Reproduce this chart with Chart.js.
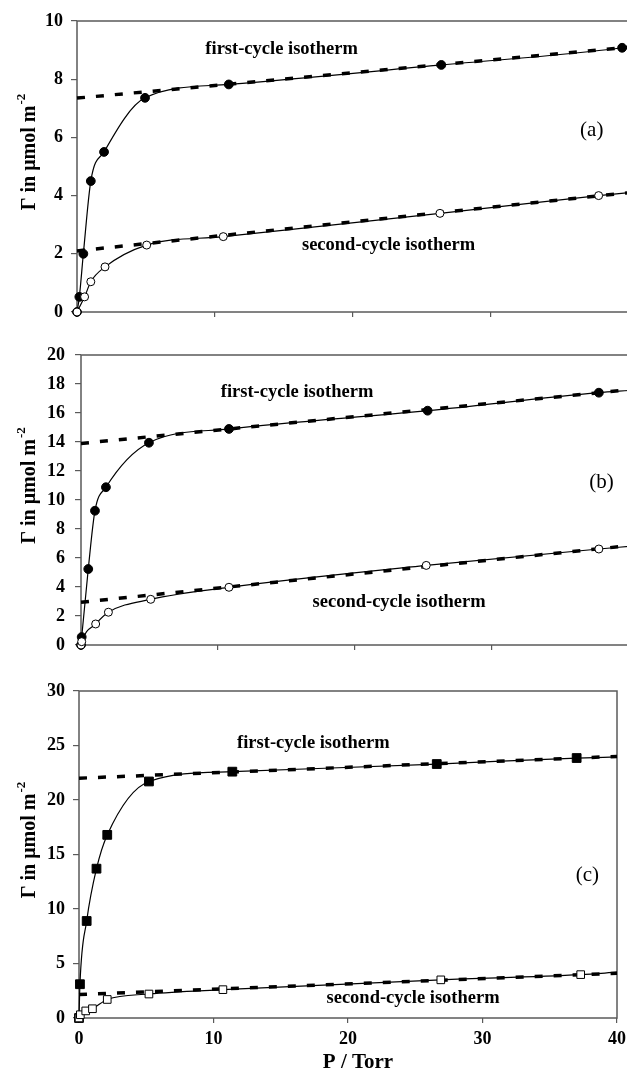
<!DOCTYPE html>
<html>
<head>
<meta charset="utf-8">
<script src="https://cdn.jsdelivr.net/npm/chart.js@4.4.1/dist/chart.umd.min.js"></script>
<style>
  html, body { margin: 0; padding: 0; background: #fff; overflow: hidden; width: 627px; height: 1077px; }
  .panel { position: absolute; left: 0; }
</style>
</head>
<body>
<div class="panel" style="top:0"><canvas id="panelA" width="660" height="330"></canvas></div>
<div class="panel" style="top:330px"><canvas id="panelB" width="660" height="330"></canvas></div>
<div class="panel" style="top:660px"><canvas id="panelC" width="627" height="417"></canvas></div>
<script>
const SERIF = '"Liberation Serif", "Times New Roman", serif';
const AXIS = '#5a5a5a';

// (a) pressure in Torr, surface excess in umol m-2
const pressA1 = [0, 0.17, 0.46, 1.0, 1.96, 4.93, 11.0, 26.4, 39.5];
const gammaA1 = [0, 0.52, 2.0, 4.5, 5.5, 7.36, 7.82, 8.49, 9.08];
const pressA2 = [0, 0.55, 1.0, 2.03, 5.05, 10.6, 26.3, 37.8];
const gammaA2 = [0, 0.52, 1.04, 1.55, 2.3, 2.59, 3.39, 4.0];
const fitEndA = [9.12, 4.1];          // fitted curves at 40 Torr
const lineA = [[7.35, 9.1], [2.1, 4.1]]; // linear part, at 0 and 40 Torr

// (b)
const pressB1 = [0, 0.05, 0.53, 1.02, 1.82, 4.96, 10.8, 25.3, 37.8];
const gammaB1 = [0, 0.55, 5.24, 9.26, 10.88, 13.95, 14.9, 16.16, 17.4];
const pressB2 = [0, 0.05, 1.07, 2.0, 5.09, 10.8, 25.2, 37.8];
const gammaB2 = [0, 0.23, 1.45, 2.26, 3.15, 3.98, 5.49, 6.62];
const fitEndB = [17.55, 6.8];
const lineB = [[13.9, 17.6], [2.95, 6.85]];

// (c)
const pressC1 = [0, 0.07, 0.57, 1.3, 2.1, 5.2, 11.4, 26.6, 37.0];
const gammaC1 = [0, 3.1, 8.9, 13.7, 16.8, 21.7, 22.6, 23.3, 23.85];
const pressC2 = [0, 0.1, 0.5, 1.0, 2.1, 5.2, 10.7, 26.9, 37.3];
const gammaC2 = [0, 0.3, 0.65, 0.85, 1.7, 2.2, 2.6, 3.5, 3.98];
const fitEndC = [23.95, 4.2];
const lineC = [[22.0, 24.0], [2.15, 4.1]];

const xTicks = [0, 10, 20, 30, 40];
const pMax = 40;

const toXY = (px, gy) => px.map((p, i) => ({ x: p, y: gy[i] }));

const panelPlugin = {
  id: 'panel',
  beforeDatasetsDraw(chart) {
    const { ctx, chartArea: a } = chart;
    ctx.save();
    ctx.strokeStyle = AXIS;
    ctx.lineWidth = 1.5;
    ctx.strokeRect(a.left, a.top, a.right - a.left, a.bottom - a.top);
    ctx.restore();
  },
  afterDraw(chart, args, o) {
    const { ctx, chartArea: a, scales: { x, y } } = chart;
    ctx.save();
    ctx.fillStyle = '#000';
    ctx.textBaseline = 'middle';
    for (const n of o.notes) {
      ctx.font = n.font;
      ctx.textAlign = n.align;
      ctx.fillText(n.text, x.getPixelForValue(n.x), y.getPixelForValue(n.y));
    }
    if (o.xTitle) {
      ctx.font = `bold 21px ${SERIF}`;
      ctx.textAlign = 'center';
      ctx.fillText('P / Torr', o.xTitle.x, o.xTitle.y);
    }
    // y title with raised exponent
    const main = 'Γ in μmol m', sup = '-2';
    ctx.font = `bold 20px ${SERIF}`;
    const w1 = ctx.measureText(main).width;
    ctx.font = `bold 13px ${SERIF}`;
    const w2 = ctx.measureText(sup).width;
    ctx.translate(30, (a.top + a.bottom) / 2 + o.titleShift);
    ctx.rotate(-Math.PI / 2);
    ctx.textAlign = 'left';
    ctx.font = `bold 20px ${SERIF}`;
    ctx.fillText(main, -(w1 + w2) / 2, 0);
    ctx.font = `bold 13px ${SERIF}`;
    ctx.fillText(sup, -(w1 + w2) / 2 + w1 + 1, -8);
    ctx.restore();
  }
};

function buildPanel(id, s) {
  const [p1, g1, p2, g2] = s.series;
  const markFilled = {
    pointStyle: s.marker, pointRadius: s.marker === 'rect' ? 6.2 : 4.4,
    pointBackgroundColor: '#000', pointBorderColor: '#000', pointBorderWidth: 1
  };
  const markOpen = {
    pointStyle: s.marker, pointRadius: s.marker === 'rect' ? 5.4 : 4,
    pointBackgroundColor: '#fff', pointBorderColor: '#000', pointBorderWidth: 1
  };
  const dashed = vals => ({
    data: [{ x: 0, y: vals[0] }, { x: pMax, y: vals[1] }],
    borderColor: '#000', borderWidth: 3.5, borderDash: [8, 11], borderCapStyle: 'butt',
    pointRadius: 0, order: 1, clip: false
  });
  const curve = (px, gy, end) => ({
    data: toXY(px, gy).concat([{ x: pMax, y: end }]),
    borderColor: '#000', borderWidth: 1.2, cubicInterpolationMode: 'monotone',
    pointRadius: 0, order: 2, clip: false
  });

  new Chart(document.getElementById(id), {
    type: 'line',
    data: {
      datasets: [
        dashed(s.lines[0]),
        dashed(s.lines[1]),
        curve(p1, g1, s.fitEnd[0]),
        curve(p2, g2, s.fitEnd[1]),
        Object.assign({ data: toXY(p2, g2), showLine: false, order: 0, clip: false }, markOpen),
        Object.assign({ data: toXY(p1, g1), showLine: false, order: 0, clip: false }, markFilled)
      ]
    },
    options: {
      responsive: false,
      animation: false,
      layout: { padding: { top: s.top, right: s.right, left: 0, bottom: 0 } },
      plugins: {
        legend: { display: false },
        tooltip: { enabled: false },
        panel: { notes: s.notes, xTitle: s.xTitle, titleShift: -14 }
      },
      scales: {
        x: {
          type: 'linear', min: 0, max: pMax,
          afterBuildTicks: sc => { sc.ticks = xTicks.map(v => ({ value: v })); },
          ticks: { display: s.xLabels, color: '#000', padding: 6, font: { family: SERIF, size: 18, weight: 'bold' } },
          grid: { drawOnChartArea: false, tickLength: 5, color: AXIS, lineWidth: 1.2 },
          border: { display: false },
          afterFit: sc => { sc.height = s.xh; sc.paddingLeft = 0; sc.paddingRight = 0; }
        },
        y: {
          type: 'linear', min: 0, max: s.yMax,
          ticks: { stepSize: s.yStep, color: '#000', padding: s.yPad, font: { family: SERIF, size: 18, weight: 'bold' } },
          grid: { drawOnChartArea: false, tickLength: 6, color: AXIS, lineWidth: 1.2 },
          border: { display: false },
          afterFit: sc => { sc.width = s.yw; sc.paddingTop = 0; sc.paddingBottom = 0; }
        }
      }
    },
    plugins: [panelPlugin]
  });
}

const noteFont = `bold 18.5px ${SERIF}`;
const tagFont = `21px ${SERIF}`;

buildPanel('panelA', {
  series: [pressA1, gammaA1, pressA2, gammaA2], fitEnd: fitEndA, lines: lineA,
  marker: 'circle', yMax: 10, yStep: 2, yw: 77, xh: 18, top: 21, right: 31, yPad: 8, xLabels: false,
  notes: [
    { text: 'first-cycle isotherm', x: 9.3, y: 9.04, font: noteFont, align: 'left' },
    { text: 'second-cycle isotherm', x: 16.3, y: 2.3, font: noteFont, align: 'left' },
    { text: '(a)', x: 37.3, y: 6.25, font: tagFont, align: 'center' }
  ]
});

buildPanel('panelB', {
  series: [pressB1, gammaB1, pressB2, gammaB2], fitEnd: fitEndB, lines: lineB,
  marker: 'circle', yMax: 20, yStep: 2, yw: 81, xh: 15, top: 25, right: 31, yPad: 10, xLabels: false,
  notes: [
    { text: 'first-cycle isotherm', x: 10.2, y: 17.45, font: noteFont, align: 'left' },
    { text: 'second-cycle isotherm', x: 16.9, y: 2.97, font: noteFont, align: 'left' },
    { text: '(b)', x: 38.0, y: 11.2, font: tagFont, align: 'center' }
  ]
});

buildPanel('panelC', {
  series: [pressC1, gammaC1, pressC2, gammaC2], fitEnd: fitEndC, lines: lineC,
  marker: 'rect', yMax: 30, yStep: 5, yw: 79, xh: 59, top: 31, right: 10, yPad: 8, xLabels: true,
  xTitle: { x: 358, y: 403 },
  notes: [
    { text: 'first-cycle isotherm', x: 11.75, y: 25.2, font: noteFont, align: 'left' },
    { text: 'second-cycle isotherm', x: 18.4, y: 1.83, font: noteFont, align: 'left' },
    { text: '(c)', x: 37.8, y: 13.1, font: tagFont, align: 'center' }
  ]
});
</script>
</body>
</html>
